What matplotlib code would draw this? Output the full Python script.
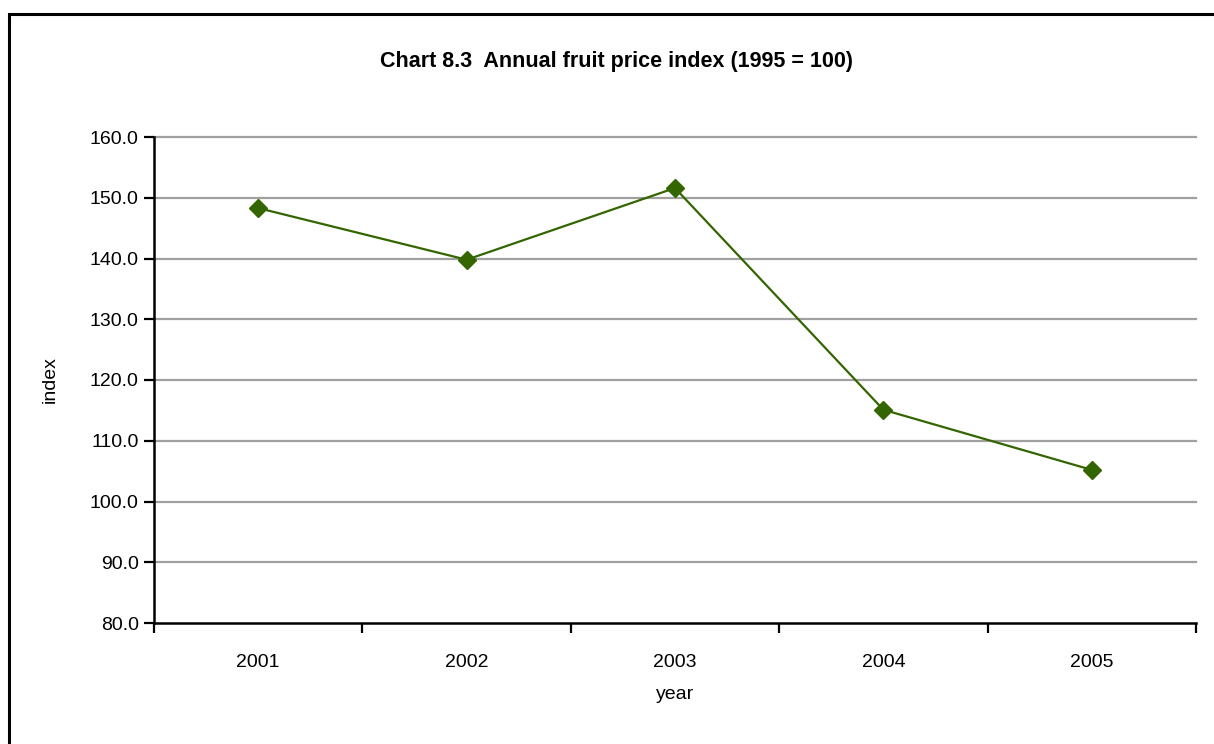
import matplotlib
matplotlib.use("Agg")
import matplotlib.pyplot as plt
from matplotlib.patches import Rectangle

# data
years = ["2001", "2002", "2003", "2004", "2005"]
index_values = [148.3, 139.8, 151.6, 115.1, 105.2]
y_ticks = [80, 90, 100, 110, 120, 130, 140, 150, 160]

plt.rcParams["font.family"] = ["Liberation Sans", "DejaVu Sans"]

fig = plt.figure(figsize=(12.14, 7.44), dpi=100)
ax = fig.add_axes([154 / 1214, 1 - 623 / 744, (1196 - 154) / 1214, (623 - 137) / 744])

# outer frame of the chart area (Excel style)
fig.patches.append(Rectangle((9 / 1214, -0.1), 1.2, (744 - 14) / 744 + 0.1,
                             transform=fig.transFigure, fill=False,
                             edgecolor="black", linewidth=2.2))

x = list(range(len(years)))
ax.plot(x, index_values, color="#336600", linewidth=1.6, marker="D",
        markersize=9, markerfacecolor="#336600", markeredgecolor="#336600",
        zorder=3)

ax.set_xlim(-0.5, len(years) - 0.5)
ax.set_ylim(80, 160)
ax.set_yticks(y_ticks)
ax.set_yticklabels([f"{v:.1f}" for v in y_ticks])
ax.set_xticks([i - 0.5 for i in range(len(years) + 1)])
ax.set_xticklabels([])
ax.set_xticks(x, minor=True)
ax.set_xticklabels(years, minor=True)
ax.tick_params(axis="x", which="minor", length=0, pad=22, labelsize=14)
ax.tick_params(axis="x", which="major", length=7, width=1.6, direction="out")
ax.tick_params(axis="y", length=7, width=1.6, direction="out", labelsize=14, pad=4)

for v in y_ticks[1:]:
    ax.axhline(v, color="#a0a0a0", linewidth=1.6, zorder=1, clip_on=False)

for side in ["top", "right"]:
    ax.spines[side].set_visible(False)
for side in ["left", "bottom"]:
    ax.spines[side].set_linewidth(1.8)
    ax.spines[side].set_zorder(2)

ax.set_xlabel("year", fontsize=14, labelpad=11)
ax.set_ylabel("index", fontsize=14, labelpad=22)
fig.text(0.508, 1 - 61 / 744, "Chart 8.3  Annual fruit price index (1995 = 100)",
         ha="center", va="center", fontsize=15.5, fontweight="bold")

fig.savefig("out.png", dpi=100)
